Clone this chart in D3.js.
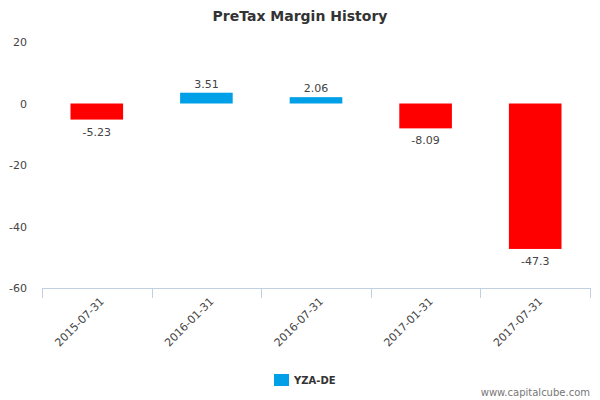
<!DOCTYPE html><html><head><script src="https://cdn.jsdelivr.net/npm/d3@7"></script>
<style>body{margin:0;background:#fff}text{font-family:"DejaVu Sans",sans-serif}</style></head><body>
<svg id="c" width="600" height="400"></svg>
<script>
const categories=["2015-07-31","2016-01-31","2016-07-31","2017-01-31","2017-07-31"];
const values=[-5.23,3.51,2.06,-8.09,-47.3];
const labels=["-5.23","3.51","2.06","-8.09","-47.3"];
const yTicks=[20,0,-20,-40,-60];
const svg=d3.select("#c");
const x=d3.scaleBand().domain(categories).range([42,590]).paddingInner(0.52).paddingOuter(0.26);
const xb=d3.scaleBand().domain(categories).range([42,590]);
const y=d3.scaleLinear().domain([-60,20]).range([288,42]);
svg.append("text").attr("x",300).attr("y",21).attr("text-anchor","middle").attr("font-size",14).attr("font-weight","bold").attr("fill","#333").text("PreTax Margin History");
yTicks.forEach(t=>svg.append("text").attr("x",27).attr("y",y(t)+4).attr("text-anchor","end").attr("font-size",11).attr("fill","#444").text(t));
svg.append("line").attr("x1",42).attr("x2",590).attr("y1",288.5).attr("y2",288.5).attr("stroke","#c0d0e0");
[0,1,2,3,4,5].forEach(i=>{const px=Math.round(42+i*xb.step())+0.5;svg.append("line").attr("x1",px).attr("x2",px).attr("y1",288).attr("y2",298).attr("stroke","#c0d0e0");});
categories.forEach((c,i)=>{const cx=xb(c)+xb.bandwidth()/2;
svg.append("text").attr("transform",`translate(${cx+8},${302}) rotate(-45)`).attr("text-anchor","end").attr("font-size",11).attr("fill","#444").text(c);});
values.forEach((v,i)=>{const c=categories[i];
svg.append("rect").attr("x",x(c)).attr("width",x.bandwidth()).attr("y",y(Math.max(0,v))).attr("height",Math.abs(y(v)-y(0))).attr("fill",v<0?"#ff0000":"#00a0e8");
const ly=v<0?y(v)+16:y(v)-5;
svg.append("text").attr("x",x(c)+x.bandwidth()/2).attr("y",ly).attr("text-anchor","middle").attr("font-size",11).attr("fill","#444").text(labels[i]);});
svg.append("rect").attr("x",274).attr("y",374).attr("width",15).attr("height",12).attr("fill","#00a0e8");
svg.append("text").attr("x",294).attr("y",384).attr("font-size",10).attr("font-weight","bold").attr("fill","#333").text("YZA-DE");
svg.append("text").attr("x",590).attr("y",396).attr("text-anchor","end").attr("font-size",10).attr("fill","#777").text("www.capitalcube.com");
</script></body></html>
